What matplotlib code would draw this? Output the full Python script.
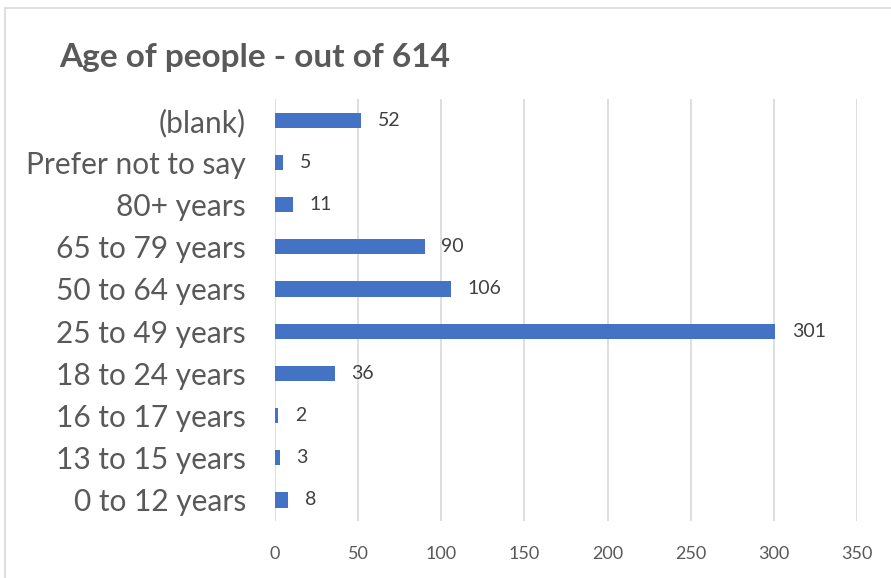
import matplotlib.pyplot as plt
from matplotlib.patches import Rectangle

categories = ['0 to 12 years', '13 to 15 years', '16 to 17 years', '18 to 24 years',
              '25 to 49 years', '50 to 64 years', '65 to 79 years', '80+ years',
              'Prefer not to say', '(blank)']
counts = [8, 3, 2, 36, 301, 106, 90, 11, 5, 52]
x_ticks = [0, 50, 100, 150, 200, 250, 300, 350]

plt.rcParams['font.family'] = ['Lato', 'DejaVu Sans']
grey = '#595959'

fig = plt.figure(figsize=(8.91, 5.78), dpi=100)
# chart frame
fig.patches.append(Rectangle((0.006, -0.01), 1.1, 0.997, transform=fig.transFigure,
                             fill=False, edgecolor='#d9d9d9', linewidth=1.2))

ax = fig.add_axes([0.3086, 0.0986, 0.6532, 0.730])
y = range(len(categories))
ax.barh(y, counts, height=0.36, color='#4472c4', zorder=3)

for yi, v in zip(y, counts):
    ax.annotate(str(v), (v, yi), xytext=(12, 0), textcoords='offset points',
                va='center', ha='left', fontsize=14, color='#404040')

ax.set_xlim(0, 350)
ax.set_ylim(-0.5, len(categories) - 0.5)
ax.set_xticks(x_ticks)
ax.set_xticklabels([str(t) for t in x_ticks], fontsize=13, color=grey)
ax.set_yticks(list(y))
ax.set_yticklabels(categories, fontsize=21.5, color=grey)
ax.tick_params(axis='both', length=0)
ax.tick_params(axis='x', pad=18)
ax.tick_params(axis='y', pad=21)
ax.grid(axis='x', color='#d9d9d9', linewidth=1.2, zorder=0)
for s in ax.spines.values():
    s.set_visible(False)

fig.text(0.066, 0.9, 'Age of people - out of 614', fontsize=24, fontweight='bold',
         color=grey, ha='left', va='center')

fig.savefig('out.png', dpi=100)
